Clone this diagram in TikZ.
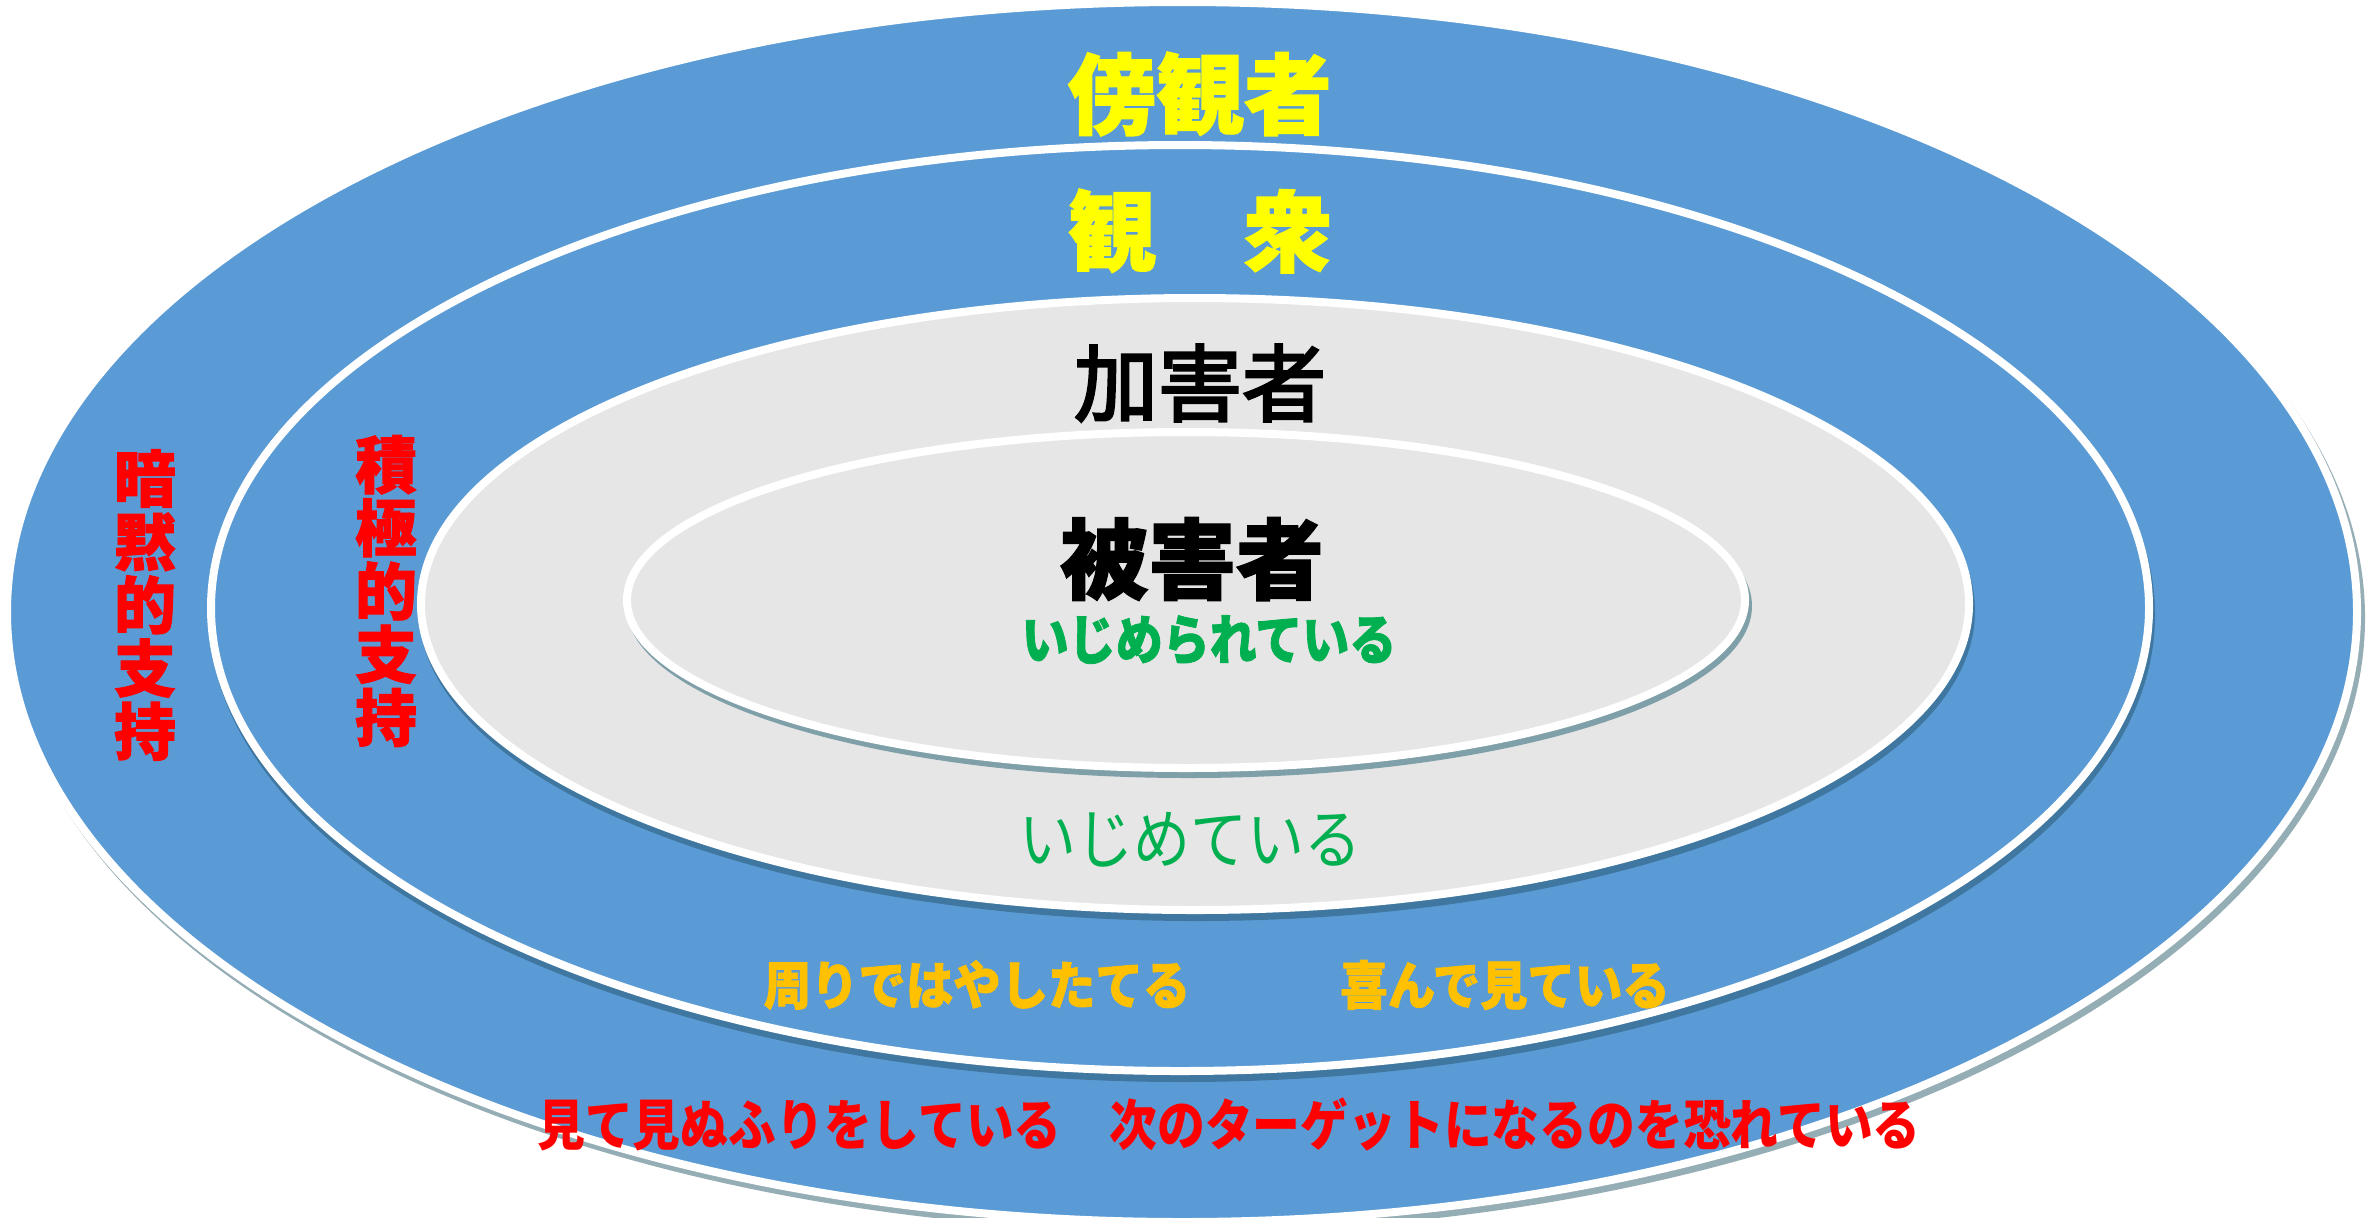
\documentclass[tikz,border=0pt]{standalone}
\usepackage{fontspec}
\usepackage{graphicx}
\newfontfamily\jp{Noto Sans CJK JP}
\newfontfamily\jpmed[FakeBold=3]{Noto Sans CJK JP}
\newfontfamily\jpheavy[BoldFeatures={FakeBold=1.5}]{Noto Sans CJK JP}
\definecolor{ablue}{HTML}{5B9BD5}
\definecolor{agray}{HTML}{E6E6E6}
\definecolor{dshadow}{HTML}{3F77A0}
\definecolor{ishadow}{HTML}{7FA0A8}
\definecolor{oshadow}{HTML}{95ADB4}
\definecolor{ylw}{HTML}{FFFF00}
\definecolor{rd}{HTML}{FF0000}
\definecolor{grn}{HTML}{00B050}
\definecolor{org}{HTML}{FFC000}
\tikzset{
  ring/.style={draw=white, line width=4pt},
  lbl/.style={inner sep=0pt, outer sep=0pt},
  heavy/.style={lbl, font=\jpheavy\bfseries},
  boldtxt/.style={lbl, font=\jp\bfseries},
  medtxt/.style={lbl, font=\jpmed},
  thintxt/.style={lbl, font=\jp},
}
\newcommand{\fsz}[1]{\fontsize{#1}{#1}\selectfont}
\begin{document}
\begin{tikzpicture}[x=0.5pt, y=-0.5pt]
\useasboundingbox (0,0) rectangle (2369,1217);
% outer ellipse
\fill[oshadow] (1186,618) ellipse [x radius=1179, y radius=614];
\fill[ablue] (1182,612) ellipse [x radius=1175, y radius=610];
\draw[ring] (1182,612) ellipse [x radius=1175, y radius=610];
% second ellipse
\fill[dshadow] (1182,615) ellipse [x radius=973, y radius=467];
\fill[ablue] (1180,608) ellipse [x radius=969, y radius=463];
\draw[ring] (1180,608) ellipse [x radius=969, y radius=463];
% third ellipse
\fill[dshadow] (1197,611) ellipse [x radius=778, y radius=310];
\fill[agray] (1195,604) ellipse [x radius=774, y radius=306];
\draw[ring] (1195,604) ellipse [x radius=774, y radius=306];
% inner ellipse
\fill[ishadow] (1189,606) ellipse [x radius=563, y radius=172];
\fill[agray] (1186,600) ellipse [x radius=559, y radius=168];
\draw[ring] (1186,600) ellipse [x radius=559, y radius=168];
% texts
\node[heavy, text=ylw] (bystander) at (1200,94) {\fsz{44}傍観者};
\node[heavy, text=ylw] (audience) at (1200,231) {\fsz{44}観　衆};
\node[medtxt, text=black] (perp) at (1200,383) {\fsz{42}加害者};
\node[heavy, text=black] (victim) at (1192,559) {\fsz{44}被害者};
\node[heavy, text=grn] (bullied) at (1209,640) {\scalebox{1}[1.15]{\fsz{23.5}いじめられている}};
\node[thintxt, text=grn] (bullying) at (1190,840) {\scalebox{1}[1.15]{\fsz{28.5}いじめている}};
\node[heavy, text=org] (cheer) at (977,985) {\scalebox{1}[1.1]{\fsz{23.7}周りではやしたてる}};
\node[heavy, text=org] (enjoy) at (1505,985) {\scalebox{1}[1.1]{\fsz{23.7}喜んで見ている}};
\node[boldtxt, text=rd] (ignore) at (1229,1125) {\scalebox{1}[1.15]{\fsz{23.9}見て見ぬふりをしている　次のターゲットになるのを恐れている}};
\node[heavy, text=rd, align=center, font=\jpheavy\bfseries\fontsize{31}{31.6}\selectfont] (tacit) at (145,605) {暗\\黙\\的\\支\\持};
\node[heavy, text=rd, align=center, font=\jpheavy\bfseries\fontsize{31}{31.6}\selectfont] (active) at (386,591) {積\\極\\的\\支\\持};
\end{tikzpicture}
\end{document}
